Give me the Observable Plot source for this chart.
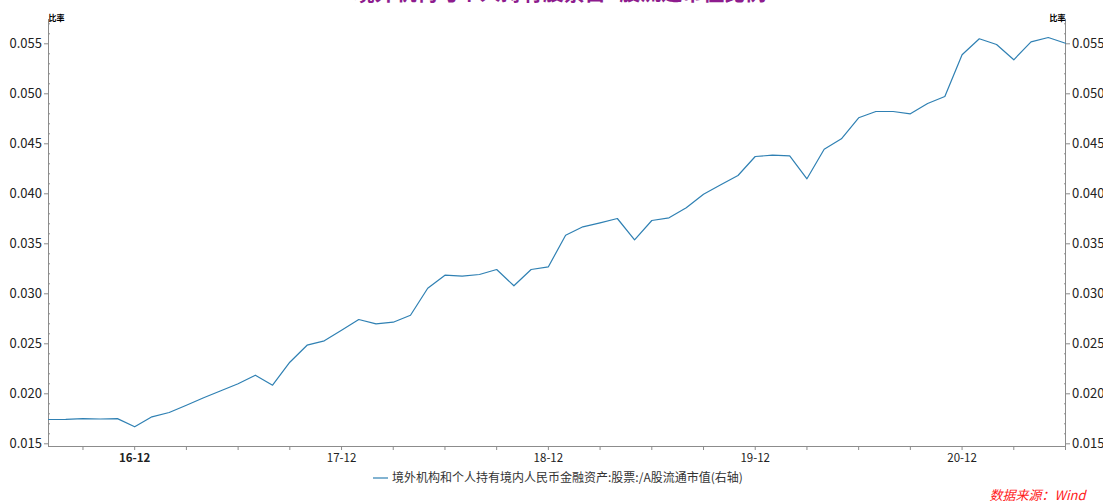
<!DOCTYPE html>
<html><head><meta charset="utf-8">
<script src="https://cdn.jsdelivr.net/npm/d3@7"></script>
<script src="https://cdn.jsdelivr.net/npm/@observablehq/plot@0.6"></script>
<style>
html,body{margin:0;padding:0;background:#fff;}
#chart{width:1103px;height:503px;overflow:hidden;}
</style>
</head><body><div id="chart"></div>
<script>
const months = [
  "2016-07","2016-08","2016-09","2016-10","2016-11","2016-12",
  "2017-01","2017-02","2017-03","2017-04","2017-05","2017-06","2017-07","2017-08","2017-09","2017-10","2017-11","2017-12",
  "2018-01","2018-02","2018-03","2018-04","2018-05","2018-06","2018-07","2018-08","2018-09","2018-10","2018-11","2018-12",
  "2019-01","2019-02","2019-03","2019-04","2019-05","2019-06","2019-07","2019-08","2019-09","2019-10","2019-11","2019-12",
  "2020-01","2020-02","2020-03","2020-04","2020-05","2020-06","2020-07","2020-08","2020-09","2020-10","2020-11","2020-12",
  "2021-01","2021-02","2021-03","2021-04","2021-05","2021-06"
];
const values = [
  0.01743,0.01745,0.01752,0.01748,0.01752,0.01670,
  0.01770,0.01813,0.01886,0.01960,0.02030,0.02100,0.02186,0.02086,0.02316,0.02486,0.02530,0.02635,
  0.02743,0.02700,0.02716,0.02786,0.03056,0.03186,0.03176,0.03193,0.03243,0.03080,0.03243,0.03270,
  0.03586,0.03670,0.03710,0.03753,0.03540,0.03733,0.03760,0.03860,0.03996,0.04090,0.04183,0.04373,
  0.04386,0.04380,0.04150,0.04446,0.04550,0.04760,0.04823,0.04823,0.04800,0.04903,0.04973,0.05390,
  0.05550,0.05493,0.05340,0.05520,0.05563,0.05506
];
const yTicks = [0.015,0.020,0.025,0.030,0.035,0.040,0.045,0.050,0.055];
const yDomain = [0.01473, 0.05743];
const titleText = "境外机构与个人持有股票占A股流通市值比例";
const legendLabel = "境外机构和个人持有境内人民币金融资产:股票:/A股流通市值(右轴)";
const sourceText = "数据来源：Wind";
const yUnit = "比率";

const data = months.map((m, i) => ({i, m, v: values[i]}));
const quarterIdx = data.filter(d => ["03","06","09","12"].includes(d.m.slice(5))).map(d => d.i);
const decIdx = data.filter(d => d.m.endsWith("-12")).map(d => d.i);
const fmtMonth = i => months[i].slice(2,4) + "-" + months[i].slice(5);
const yMinor = d3.range(15, 58).map(k => k / 1000).filter(v => !yTicks.some(t => Math.abs(t - v) < 1e-9));

const W = 1103, H = 503, ML = 48, MR = 38, MT = 19, MB = 57;
const font = '"Noto Sans CJK SC", "Noto Sans", sans-serif';
const axisGrey = "#8c8c8c";
const lineColor = "#2f80b3";
const blank = () => "";

const chart = Plot.plot({
  width: W, height: H,
  marginLeft: ML, marginRight: MR, marginTop: MT, marginBottom: MB,
  style: {fontFamily: font, background: "#fff", overflow: "visible"},
  x: {type: "linear", domain: [0, months.length - 1], axis: null, label: null},
  y: {domain: yDomain, axis: null, label: null},
  marks: [
    Plot.ruleX([0, months.length - 1], {stroke: axisGrey, strokeWidth: 1}),
    Plot.ruleY([yDomain[0]], {stroke: axisGrey, strokeWidth: 1}),
    Plot.axisY({anchor: "left", ticks: yTicks, tickSize: 4, tickPadding: 2.5, tickFormat: d3.format(".3f"), fontSize: 13, fill: "#222", stroke: axisGrey, label: null}),
    Plot.axisY({anchor: "left", ticks: yMinor, tickSize: 2, dx: 2, tickFormat: blank, stroke: axisGrey, label: null}),
    Plot.axisY({anchor: "right", ticks: yTicks, tickSize: 4, tickPadding: 2.5, tickFormat: d3.format(".3f"), fontSize: 13, fill: "#222", stroke: axisGrey, label: null}),
    Plot.axisY({anchor: "right", ticks: yMinor, tickSize: 2, dx: -2, tickFormat: blank, stroke: axisGrey, label: null}),
    Plot.axisX({anchor: "bottom", ticks: quarterIdx, tickSize: 4, tickFormat: blank, stroke: axisGrey, label: null}),
    Plot.axisX({anchor: "bottom", ticks: decIdx.slice(0, 1), tickSize: 0, tickPadding: 7, tickFormat: fmtMonth, fontSize: 11.5, fontWeight: "bold", fill: "#222", label: null}),
    Plot.axisX({anchor: "bottom", ticks: decIdx.slice(1), tickSize: 0, tickPadding: 7, tickFormat: fmtMonth, fontSize: 11.5, fill: "#222", label: null}),
    Plot.line(data, {x: "i", y: "v", stroke: lineColor, strokeWidth: 1.2}),
    Plot.text([yUnit], {frameAnchor: "top-left", textAnchor: "start", lineAnchor: "middle", dy: -1.5, fontSize: 8, fontWeight: "bold", fill: "#000"}),
    Plot.text([yUnit], {frameAnchor: "top-right", textAnchor: "end", lineAnchor: "middle", dy: -1.5, fontSize: 8, fontWeight: "bold", fill: "#000"}),
    Plot.text([titleText], {frameAnchor: "top", textAnchor: "middle", lineAnchor: "bottom", dx: 3, dy: -20, fontSize: 21, fontWeight: "bold", fill: "#8e1c8e"}),
    Plot.text([legendLabel], {frameAnchor: "bottom", textAnchor: "start", lineAnchor: "middle", dx: -165, dy: 32, fontSize: 12, fill: "#333"}),
    Plot.text([sourceText], {frameAnchor: "bottom-right", textAnchor: "end", lineAnchor: "middle", dx: 20, dy: 49.5, fontSize: 13, fontStyle: "italic", fill: "#ff1a1a"})
  ]
});
document.getElementById("chart").appendChild(chart);

const cx = (ML + W - MR) / 2;
d3.select(chart).append("line")
  .attr("x1", cx - 165 - 18.5).attr("x2", cx - 165 - 3.5)
  .attr("y1", H - MB + 32).attr("y2", H - MB + 32)
  .attr("stroke", lineColor).attr("stroke-width", 1.2);
</script>
</body></html>
